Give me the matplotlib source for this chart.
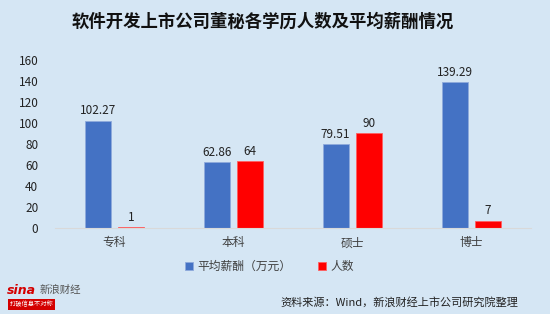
import matplotlib
matplotlib.use("Agg")
import matplotlib.pyplot as plt
import numpy as np

plt.rcParams['font.family'] = ['Noto Sans CJK SC', 'DejaVu Sans']

# data
categories = ['专科', '本科', '硕士', '博士']
salary = [102.27, 62.86, 79.51, 139.29]   # 平均薪酬（万元）
people = [1, 64, 90, 7]                   # 人数
salary_labels = ['102.27', '62.86', '79.51', '139.29']
people_labels = ['1', '64', '90', '7']

bg = '#D5E6F4'
blue = '#4472C4'
red = '#FF0000'

fig = plt.figure(figsize=(5.5, 3.14), dpi=100, facecolor=bg)
ax = fig.add_axes([0.1, 0.274, 0.865, 0.535], facecolor=bg)

x = np.arange(len(categories))
w = 0.22
off = 0.14
b1 = ax.bar(x - off, salary, w, color=blue, edgecolor='#8FAADC', linewidth=0.6,
            label='平均薪酬（万元）')
b2 = ax.bar(x + off, people, w, color=red, edgecolor='#FF6060', linewidth=0.6,
            label='人数')

for rect, lab in zip(b1, salary_labels):
    ax.text(rect.get_x() + rect.get_width() / 2, rect.get_height() + 3, lab,
            ha='center', va='bottom', fontsize=8.5, color='#222222')
for rect, lab in zip(b2, people_labels):
    ax.text(rect.get_x() + rect.get_width() / 2, rect.get_height() + 3, lab,
            ha='center', va='bottom', fontsize=8.5, color='#222222')

ax.set_xlim(-0.5, 3.5)
ax.set_ylim(0, 160)
ax.set_yticks(range(0, 161, 20))
ax.set_xticks(x)
ax.set_xticklabels(categories, fontsize=8.5, color='#404040')
ax.tick_params(axis='y', labelsize=8.5, colors='#222222', length=0, pad=12)
ax.tick_params(axis='x', length=0, pad=6)
for s in ['top', 'right', 'left']:
    ax.spines[s].set_visible(False)
ax.spines['bottom'].set_color('#D9D9D9')
ax.spines['bottom'].set_linewidth(0.8)

fig.text(0.477, 0.93, '软件开发上市公司董秘各学历人数及平均薪酬情况', ha='center', va='center',
         fontsize=12.5, fontweight='bold', color='#111111')

fig.legend(handles=[b1, b2], loc='center', bbox_to_anchor=(0.49, 0.152), ncol=2,
           frameon=False, fontsize=8.5, handlelength=0.7, handleheight=0.7,
           columnspacing=2.2, handletextpad=0.4, labelcolor='#404040')

fig.text(0.943, 0.036, '资料来源：Wind，新浪财经上市公司研究院整理', ha='right', va='center',
         fontsize=8, color='#222222')

# sina logo as text
fig.text(0.012, 0.075, 'sina', fontsize=9, fontweight='bold', style='italic',
         color='#D40000', va='center', family='DejaVu Sans')
fig.text(0.072, 0.075, '新浪财经', fontsize=7.5, style='italic', color='#555555', va='center')
fig.text(0.018, 0.03, '打破信息不对称', fontsize=4.5, color='white', va='center',
         bbox=dict(facecolor='#D40000', edgecolor='none', pad=1.2))

fig.savefig('out.png', dpi=100, facecolor=bg)
